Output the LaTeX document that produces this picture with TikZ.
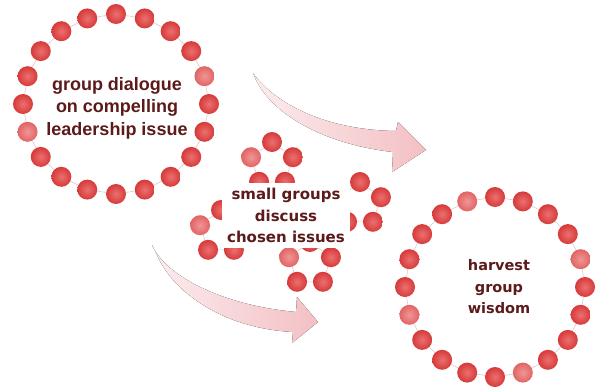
\documentclass[tikz,border=0pt]{standalone}
\usepackage{fontspec}
\setmainfont{Liberation Sans}
\newfontfamily\dejavu{DejaVu Sans}
\definecolor{txt}{RGB}{92,26,26}
\definecolor{beadin}{RGB}{236,112,112}
\definecolor{beadout}{RGB}{214,58,58}
\definecolor{palein}{RGB}{240,150,150}
\definecolor{paleout}{RGB}{226,100,100}
\definecolor{arrowpink}{RGB}{243,192,196}
\definecolor{strand}{RGB}{222,200,200}
\begin{document}
\begin{tikzpicture}[x=1pt,y=-1pt,
  bead/.style={circle, minimum size=20pt, inner sep=0pt, shading=radial, inner color=beadin, outer color=beadout},
  palebead/.style={bead, inner color=palein, outer color=paleout},
  strandline/.style={draw=strand, line width=0.6pt},
  flowarrow/.style={left color=arrowpink!30!white, right color=arrowpink},
  bigtext/.style={text=txt, align=center, font=\bfseries\fontsize{18}{22.5}\selectfont},
  smalltext/.style={text=txt, align=center, font=\dejavu\bfseries\fontsize{15}{21.5}\selectfont},
  wisdomtext/.style={text=txt, align=center, font=\dejavu\bfseries\fontsize{14.5}{21.5}\selectfont}]
\useasboundingbox (0,0) rectangle (597,388);
\fill[white] (0,0) rectangle (597,388);

% flow arrows
\fill[flowarrow] (253,73) .. controls (272,100) and (320,130) .. (396,131)
  -- (398,122) -- (426,150) -- (392,172) -- (393,152)
  .. controls (330,145) and (275,118) .. (256,80) -- cycle;
\fill[flowarrow] (152,245) .. controls (165,275) and (220,305) .. (296,312)
  -- (297,297) -- (318,322) -- (292,343) -- (293,332)
  .. controls (220,328) and (172,290) .. (157,255) -- cycle;

% left ring
\foreach \i in {0,...,19} {
  \ifnum\i=6 \def\bs{palebead}\else\ifnum\i=16 \def\bs{palebead}\else\def\bs{bead}\fi\fi
  \node[\bs] (L\i) at ({116+93*cos(90+18*\i)},{104-90*sin(90+18*\i)}) {};
}
\foreach \i [evaluate=\i as \j using {int(mod(\i+1,20))}] in {0,...,19}
  \draw[strandline] (L\i) -- (L\j);

% right ring
\foreach \i in {0,...,19} {
  \ifnum\i=1 \def\bs{palebead}\else\ifnum\i=6 \def\bs{palebead}\else\ifnum\i=11 \def\bs{palebead}\else\ifnum\i=16 \def\bs{palebead}\else\def\bs{bead}\fi\fi\fi\fi
  \node[\bs] (R\i) at ({495+90*cos(90+18*\i)},{287-90*sin(90+18*\i)}) {};
}
\foreach \i [evaluate=\i as \j using {int(mod(\i+1,20))}] in {0,...,19}
  \draw[strandline] (R\i) -- (R\j);

% small groups (pentagons)
\foreach \p/\cx/\cy in {A/272/164, B/360/204, C/221/232, D/310/264} {
  \foreach \k in {0,...,4} {
    \ifnum\k=1 \def\bs{palebead}\else\def\bs{bead}\fi
    \node[\bs] (\p\k) at ({\cx+22*cos(90+72*\k)},{\cy-22*sin(90+72*\k)}) {};
  }
  \draw[strandline] (\p0) -- (\p1) -- (\p2) -- (\p3) -- (\p4) -- (\p0);
}

% texts
\node[bigtext] (lefttext) at (117,108) {group dialogue\\on compelling\\leadership issue};
\node[smalltext, fill=white, minimum width=128pt, minimum height=65pt] (midtext) at (286,215.5) {small groups\\discuss\\chosen issues};
\node[wisdomtext] (righttext) at (499,287) {harvest\\group\\wisdom};
\end{tikzpicture}
\end{document}
